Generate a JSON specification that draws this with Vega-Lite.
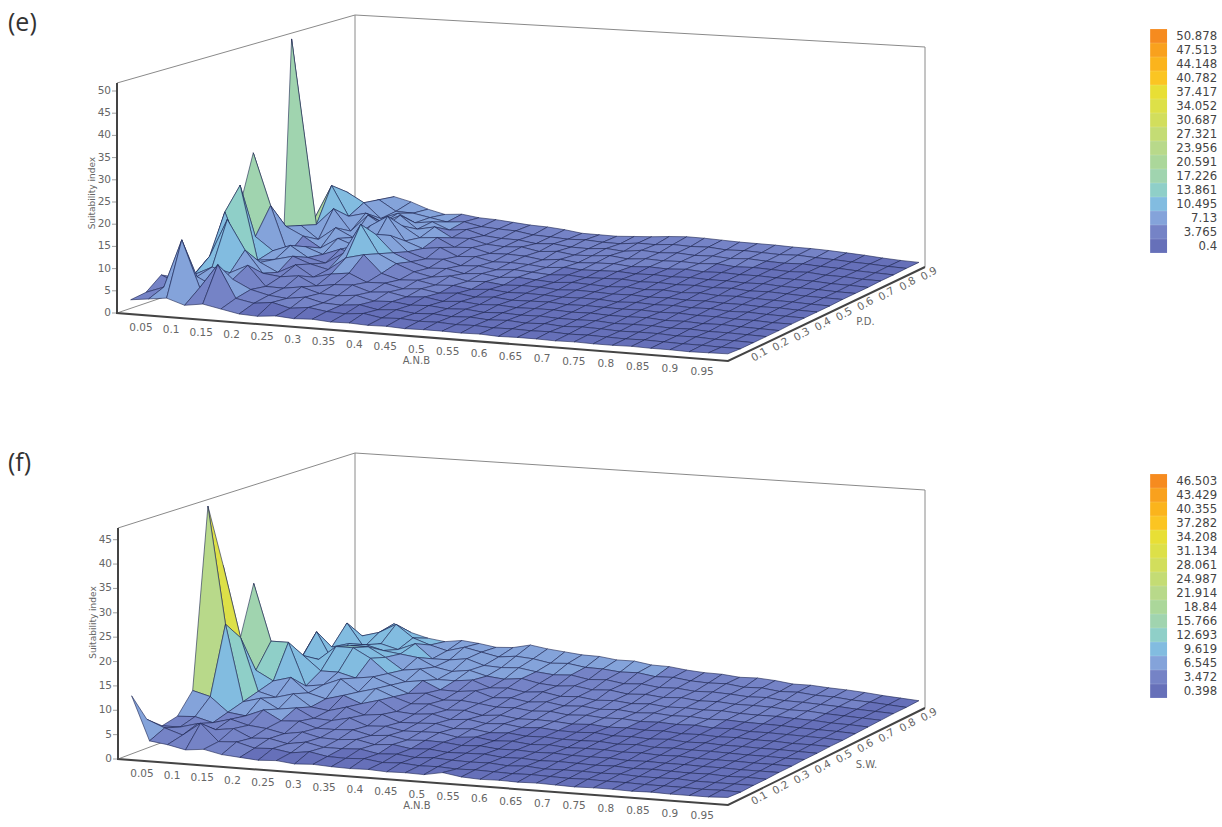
{"$schema":"https://vega.github.io/schema/vega-lite/v6.json","padding":0,"autosize":{"type":"pad"},"spacing":0,"background":"white","config":{"view":{"stroke":null},"concat":{"spacing":0}},"resolve":{"scale":{"fill":"independent"},"legend":{"fill":"independent"}},
"vconcat":[{"width":1222,"height":413,
"title":{"text":"(e)","anchor":"start","frame":"group","orient":"top","offset":-36,"dx":8,"fontSize":25,"font":"Open Sans","fontWeight":"normal","color":"#333333"},
"data":{"values":[
{"k":"e","id":"a","n":0,"a":1,"p":-3,"z":0},{"k":"e","id":"a","n":1,"a":1,"p":90,"z":0},{"k":"e","id":"a","n":2,"a":1,"p":90,"z":51.8},{"k":"e","id":"a","n":3,"a":99,"p":90,"z":51.8},{"k":"e","id":"a","n":4,"a":99,"p":90,"z":0},{"k":"e","id":"b","n":0,"a":1,"p":-3,"z":51.8},{"k":"e","id":"b","n":1,"a":1,"p":90,"z":51.8},
{"k":"E","id":"c","n":0,"a":1,"p":-3,"z":51.8},{"k":"E","id":"c","n":1,"a":1,"p":-3,"z":0},{"k":"E","id":"c","n":2,"a":99,"p":-3,"z":0},{"k":"E","id":"c","n":3,"a":99,"p":90,"z":0},
{"k":"x","t":"0.05","a":5,"p":-3,"z":0},{"k":"x","t":"0.1","a":10,"p":-3,"z":0},{"k":"x","t":"0.15","a":15,"p":-3,"z":0},{"k":"x","t":"0.2","a":20,"p":-3,"z":0},{"k":"x","t":"0.25","a":25,"p":-3,"z":0},{"k":"x","t":"0.3","a":30,"p":-3,"z":0},{"k":"x","t":"0.35","a":35,"p":-3,"z":0},{"k":"x","t":"0.4","a":40,"p":-3,"z":0},{"k":"x","t":"0.45","a":45,"p":-3,"z":0},{"k":"x","t":"0.5","a":50,"p":-3,"z":0},{"k":"x","t":"0.55","a":55,"p":-3,"z":0},{"k":"x","t":"0.6","a":60,"p":-3,"z":0},{"k":"x","t":"0.65","a":65,"p":-3,"z":0},{"k":"x","t":"0.7","a":70,"p":-3,"z":0},{"k":"x","t":"0.75","a":75,"p":-3,"z":0},{"k":"x","t":"0.8","a":80,"p":-3,"z":0},{"k":"x","t":"0.85","a":85,"p":-3,"z":0},{"k":"x","t":"0.9","a":90,"p":-3,"z":0},{"k":"x","t":"0.95","a":95,"p":-3,"z":0},
{"k":"y","t":"0","a":1,"p":-3,"z":0},{"k":"y","t":"5","a":1,"p":-3,"z":5},{"k":"y","t":"10","a":1,"p":-3,"z":10},{"k":"y","t":"15","a":1,"p":-3,"z":15},{"k":"y","t":"20","a":1,"p":-3,"z":20},{"k":"y","t":"25","a":1,"p":-3,"z":25},{"k":"y","t":"30","a":1,"p":-3,"z":30},{"k":"y","t":"35","a":1,"p":-3,"z":35},{"k":"y","t":"40","a":1,"p":-3,"z":40},{"k":"y","t":"45","a":1,"p":-3,"z":45},{"k":"y","t":"50","a":1,"p":-3,"z":50},
{"k":"q","t":"0.1","a":99,"p":10,"z":0},{"k":"q","t":"0.2","a":99,"p":20,"z":0},{"k":"q","t":"0.3","a":99,"p":30,"z":0},{"k":"q","t":"0.4","a":99,"p":40,"z":0},{"k":"q","t":"0.5","a":99,"p":50,"z":0},{"k":"q","t":"0.6","a":99,"p":60,"z":0},{"k":"q","t":"0.7","a":99,"p":70,"z":0},{"k":"q","t":"0.8","a":99,"p":80,"z":0},{"k":"q","t":"0.9","a":99,"p":90,"z":0},
{"k":"t1","t":"A.N.B","a":50,"p":-3,"z":0},{"k":"t2","t":"P.D.","a":99,"p":60,"z":0},{"k":"t3","t":"Suitability index","a":1,"p":-3,"z":27},
{"a":2,"p":90,"z":5},{"a":5,"p":90,"z":7},{"a":8,"p":90,"z":9},{"a":11,"p":90,"z":8},{"a":14,"p":90,"z":6.5},{"a":17,"p":90,"z":5.5},{"a":20,"p":90,"z":5.8},{"a":23,"p":90,"z":5.2},{"a":26,"p":90,"z":5},{"a":29,"p":90,"z":4.6},{"a":32,"p":90,"z":4.2},{"a":35,"p":90,"z":4},{"a":38,"p":90,"z":3.6},{"a":41,"p":90,"z":3},{"a":44,"p":90,"z":2.9},{"a":47,"p":90,"z":2.8},{"a":50,"p":90,"z":3},{"a":53,"p":90,"z":3.2},{"a":56,"p":90,"z":3.5},{"a":59,"p":90,"z":3.7},{"a":62,"p":90,"z":3.6},{"a":65,"p":90,"z":3.4},{"a":68,"p":90,"z":3.2},{"a":71,"p":90,"z":3.1},{"a":74,"p":90,"z":3},{"a":77,"p":90,"z":2.8},{"a":80,"p":90,"z":2.7},{"a":83,"p":90,"z":2.5},{"a":86,"p":90,"z":2.2},{"a":89,"p":90,"z":1.9},{"a":92,"p":90,"z":1.5},{"a":95,"p":90,"z":1.2},{"a":98,"p":90,"z":1},
{"a":2,"p":84,"z":5},{"a":5,"p":84,"z":8},{"a":8,"p":84,"z":9.5},{"a":11,"p":84,"z":7},{"a":14,"p":84,"z":6.8},{"a":17,"p":84,"z":6},{"a":20,"p":84,"z":5.2},{"a":23,"p":84,"z":5.5},{"a":26,"p":84,"z":4.6},{"a":29,"p":84,"z":4.3},{"a":32,"p":84,"z":4.1},{"a":35,"p":84,"z":3.4},{"a":38,"p":84,"z":3.2},{"a":41,"p":84,"z":2.9},{"a":44,"p":84,"z":3},{"a":47,"p":84,"z":2.7},{"a":50,"p":84,"z":2.6},{"a":53,"p":84,"z":3},{"a":56,"p":84,"z":2.9},{"a":59,"p":84,"z":3.2},{"a":62,"p":84,"z":3},{"a":65,"p":84,"z":3.1},{"a":68,"p":84,"z":2.7},{"a":71,"p":84,"z":2.8},{"a":74,"p":84,"z":2.6},{"a":77,"p":84,"z":2.4},{"a":80,"p":84,"z":2.5},{"a":83,"p":84,"z":2.2},{"a":86,"p":84,"z":2},{"a":89,"p":84,"z":1.7},{"a":92,"p":84,"z":1.5},{"a":95,"p":84,"z":1.2},{"a":98,"p":84,"z":1},
{"a":2,"p":78,"z":4},{"a":5,"p":78,"z":12.3},{"a":8,"p":78,"z":10},{"a":11,"p":78,"z":6.5},{"a":14,"p":78,"z":8},{"a":17,"p":78,"z":6},{"a":20,"p":78,"z":6.5},{"a":23,"p":78,"z":4.8},{"a":26,"p":78,"z":5.2},{"a":29,"p":78,"z":4},{"a":32,"p":78,"z":3.6},{"a":35,"p":78,"z":3.5},{"a":38,"p":78,"z":2.9},{"a":41,"p":78,"z":3.1},{"a":44,"p":78,"z":2.6},{"a":47,"p":78,"z":2.5},{"a":50,"p":78,"z":2.8},{"a":53,"p":78,"z":2.4},{"a":56,"p":78,"z":2.9},{"a":59,"p":78,"z":2.6},{"a":62,"p":78,"z":2.8},{"a":65,"p":78,"z":2.5},{"a":68,"p":78,"z":2.6},{"a":71,"p":78,"z":2.3},{"a":74,"p":78,"z":2.5},{"a":77,"p":78,"z":2.2},{"a":80,"p":78,"z":2},{"a":83,"p":78,"z":2.1},{"a":86,"p":78,"z":1.8},{"a":89,"p":78,"z":1.6},{"a":92,"p":78,"z":1.3},{"a":95,"p":78,"z":1.1},{"a":98,"p":78,"z":0.9},
{"a":2,"p":72,"z":7},{"a":5,"p":72,"z":15},{"a":8,"p":72,"z":8},{"a":11,"p":72,"z":9},{"a":14,"p":72,"z":7},{"a":17,"p":72,"z":9},{"a":20,"p":72,"z":6},{"a":23,"p":72,"z":6.8},{"a":26,"p":72,"z":4.5},{"a":29,"p":72,"z":4.6},{"a":32,"p":72,"z":3.5},{"a":35,"p":72,"z":3.2},{"a":38,"p":72,"z":3.4},{"a":41,"p":72,"z":2.6},{"a":44,"p":72,"z":2.9},{"a":47,"p":72,"z":2.3},{"a":50,"p":72,"z":2.4},{"a":53,"p":72,"z":2.7},{"a":56,"p":72,"z":2.2},{"a":59,"p":72,"z":2.5},{"a":62,"p":72,"z":2.3},{"a":65,"p":72,"z":2.4},{"a":68,"p":72,"z":2.2},{"a":71,"p":72,"z":2.4},{"a":74,"p":72,"z":2},{"a":77,"p":72,"z":2.1},{"a":80,"p":72,"z":1.9},{"a":83,"p":72,"z":1.7},{"a":86,"p":72,"z":1.8},{"a":89,"p":72,"z":1.4},{"a":92,"p":72,"z":1.3},{"a":95,"p":72,"z":1},{"a":98,"p":72,"z":0.9},
{"a":2,"p":63,"z":50.9},{"a":5,"p":66,"z":7},{"a":8,"p":66,"z":11},{"a":11,"p":66,"z":6},{"a":14,"p":66,"z":10},{"a":17,"p":66,"z":7.5},{"a":20,"p":66,"z":8},{"a":23,"p":66,"z":5.5},{"a":26,"p":66,"z":5.8},{"a":29,"p":66,"z":3.8},{"a":32,"p":66,"z":4},{"a":35,"p":66,"z":2.9},{"a":38,"p":66,"z":3},{"a":41,"p":66,"z":2.8},{"a":44,"p":66,"z":2.2},{"a":47,"p":66,"z":2.6},{"a":50,"p":66,"z":2.1},{"a":53,"p":66,"z":2.3},{"a":56,"p":66,"z":2.4},{"a":59,"p":66,"z":2},{"a":62,"p":66,"z":2.2},{"a":65,"p":66,"z":2},{"a":68,"p":66,"z":2.2},{"a":71,"p":66,"z":1.9},{"a":74,"p":66,"z":2},{"a":77,"p":66,"z":1.8},{"a":80,"p":66,"z":1.8},{"a":83,"p":66,"z":1.6},{"a":86,"p":66,"z":1.5},{"a":89,"p":66,"z":1.4},{"a":92,"p":66,"z":1.1},{"a":95,"p":66,"z":1},{"a":98,"p":66,"z":0.8},
{"a":2,"p":60,"z":7},{"a":5,"p":60,"z":8},{"a":8,"p":60,"z":5},{"a":11,"p":60,"z":8},{"a":14,"p":60,"z":6},{"a":17,"p":60,"z":9},{"a":20,"p":60,"z":11.5},{"a":23,"p":60,"z":6},{"a":26,"p":60,"z":4.5},{"a":29,"p":60,"z":5},{"a":32,"p":60,"z":3.2},{"a":35,"p":60,"z":3.4},{"a":38,"p":60,"z":2.5},{"a":41,"p":60,"z":2.6},{"a":44,"p":60,"z":2.4},{"a":47,"p":60,"z":2},{"a":50,"p":60,"z":2.3},{"a":53,"p":60,"z":2},{"a":56,"p":60,"z":2.1},{"a":59,"p":60,"z":2.2},{"a":62,"p":60,"z":1.9},{"a":65,"p":60,"z":2},{"a":68,"p":60,"z":1.8},{"a":71,"p":60,"z":1.9},{"a":74,"p":60,"z":1.7},{"a":77,"p":60,"z":1.7},{"a":80,"p":60,"z":1.5},{"a":83,"p":60,"z":1.6},{"a":86,"p":60,"z":1.3},{"a":89,"p":60,"z":1.2},{"a":92,"p":60,"z":1.1},{"a":95,"p":60,"z":0.9},{"a":98,"p":60,"z":0.8},
{"a":2,"p":54,"z":14},{"a":5,"p":54,"z":9},{"a":8,"p":54,"z":7},{"a":11,"p":54,"z":4.5},{"a":14,"p":54,"z":7},{"a":17,"p":54,"z":5.5},{"a":20,"p":54,"z":6.5},{"a":23,"p":54,"z":8.5},{"a":26,"p":54,"z":5},{"a":29,"p":54,"z":3.6},{"a":32,"p":54,"z":3.8},{"a":35,"p":54,"z":2.6},{"a":38,"p":54,"z":2.8},{"a":41,"p":54,"z":2.2},{"a":44,"p":54,"z":2.5},{"a":47,"p":54,"z":2.2},{"a":50,"p":54,"z":1.9},{"a":53,"p":54,"z":2.1},{"a":56,"p":54,"z":1.8},{"a":59,"p":54,"z":1.9},{"a":62,"p":54,"z":2},{"a":65,"p":54,"z":1.7},{"a":68,"p":54,"z":1.8},{"a":71,"p":54,"z":1.6},{"a":74,"p":54,"z":1.7},{"a":77,"p":54,"z":1.5},{"a":80,"p":54,"z":1.6},{"a":83,"p":54,"z":1.3},{"a":86,"p":54,"z":1.4},{"a":89,"p":54,"z":1.2},{"a":92,"p":54,"z":1},{"a":95,"p":54,"z":0.9},{"a":98,"p":54,"z":0.8},
{"a":2,"p":48,"z":27},{"a":5,"p":48,"z":15},{"a":8,"p":48,"z":4},{"a":11,"p":48,"z":6},{"a":14,"p":48,"z":4.5},{"a":17,"p":48,"z":6},{"a":20,"p":48,"z":5},{"a":23,"p":48,"z":10},{"a":26,"p":48,"z":6},{"a":29,"p":48,"z":4.2},{"a":32,"p":48,"z":3},{"a":35,"p":48,"z":3.2},{"a":38,"p":48,"z":2.3},{"a":41,"p":48,"z":2.6},{"a":44,"p":48,"z":2},{"a":47,"p":48,"z":2.3},{"a":50,"p":48,"z":2},{"a":53,"p":48,"z":1.7},{"a":56,"p":48,"z":2},{"a":59,"p":48,"z":1.8},{"a":62,"p":48,"z":1.6},{"a":65,"p":48,"z":1.8},{"a":68,"p":48,"z":1.5},{"a":71,"p":48,"z":1.7},{"a":74,"p":48,"z":1.4},{"a":77,"p":48,"z":1.6},{"a":80,"p":48,"z":1.3},{"a":83,"p":48,"z":1.4},{"a":86,"p":48,"z":1.2},{"a":89,"p":48,"z":1.1},{"a":92,"p":48,"z":1},{"a":95,"p":48,"z":0.8},{"a":98,"p":48,"z":0.7},
{"a":2,"p":42,"z":14},{"a":5,"p":42,"z":9},{"a":8,"p":42,"z":6},{"a":11,"p":42,"z":7.5},{"a":14,"p":42,"z":5},{"a":17,"p":42,"z":4},{"a":20,"p":42,"z":6.5},{"a":23,"p":42,"z":13.5},{"a":26,"p":42,"z":7},{"a":29,"p":42,"z":5},{"a":32,"p":42,"z":3.4},{"a":35,"p":42,"z":2.5},{"a":38,"p":42,"z":3},{"a":41,"p":42,"z":2.1},{"a":44,"p":42,"z":2.3},{"a":47,"p":42,"z":1.8},{"a":50,"p":42,"z":2},{"a":53,"p":42,"z":1.9},{"a":56,"p":42,"z":1.6},{"a":59,"p":42,"z":1.8},{"a":62,"p":42,"z":1.7},{"a":65,"p":42,"z":1.5},{"a":68,"p":42,"z":1.6},{"a":71,"p":42,"z":1.4},{"a":74,"p":42,"z":1.5},{"a":77,"p":42,"z":1.3},{"a":80,"p":42,"z":1.4},{"a":83,"p":42,"z":1.2},{"a":86,"p":42,"z":1.2},{"a":89,"p":42,"z":1},{"a":92,"p":42,"z":1},{"a":95,"p":42,"z":0.8},{"a":98,"p":42,"z":0.7},
{"a":2,"p":36,"z":5},{"a":5,"p":36,"z":22},{"a":8,"p":36,"z":5},{"a":11,"p":36,"z":5.5},{"a":14,"p":36,"z":6.5},{"a":17,"p":36,"z":5},{"a":20,"p":36,"z":4},{"a":23,"p":36,"z":7},{"a":26,"p":36,"z":8},{"a":29,"p":36,"z":4},{"a":32,"p":36,"z":2.8},{"a":35,"p":36,"z":3},{"a":38,"p":36,"z":2.2},{"a":41,"p":36,"z":2.4},{"a":44,"p":36,"z":1.8},{"a":47,"p":36,"z":2.1},{"a":50,"p":36,"z":1.7},{"a":53,"p":36,"z":1.8},{"a":56,"p":36,"z":1.7},{"a":59,"p":36,"z":1.5},{"a":62,"p":36,"z":1.6},{"a":65,"p":36,"z":1.6},{"a":68,"p":36,"z":1.3},{"a":71,"p":36,"z":1.5},{"a":74,"p":36,"z":1.3},{"a":77,"p":36,"z":1.4},{"a":80,"p":36,"z":1.2},{"a":83,"p":36,"z":1.3},{"a":86,"p":36,"z":1},{"a":89,"p":36,"z":1.1},{"a":92,"p":36,"z":0.9},{"a":95,"p":36,"z":0.8},{"a":98,"p":36,"z":0.7},
{"a":2,"p":30,"z":4},{"a":5,"p":30,"z":17},{"a":8,"p":30,"z":7},{"a":11,"p":30,"z":6},{"a":14,"p":30,"z":4},{"a":17,"p":30,"z":6},{"a":20,"p":30,"z":3.5},{"a":23,"p":30,"z":4.5},{"a":26,"p":30,"z":5},{"a":29,"p":30,"z":3.2},{"a":32,"p":30,"z":3.3},{"a":35,"p":30,"z":2.3},{"a":38,"p":30,"z":2.6},{"a":41,"p":30,"z":1.9},{"a":44,"p":30,"z":2.2},{"a":47,"p":30,"z":1.6},{"a":50,"p":30,"z":1.9},{"a":53,"p":30,"z":1.5},{"a":56,"p":30,"z":1.6},{"a":59,"p":30,"z":1.7},{"a":62,"p":30,"z":1.4},{"a":65,"p":30,"z":1.5},{"a":68,"p":30,"z":1.4},{"a":71,"p":30,"z":1.3},{"a":74,"p":30,"z":1.4},{"a":77,"p":30,"z":1.2},{"a":80,"p":30,"z":1.3},{"a":83,"p":30,"z":1.1},{"a":86,"p":30,"z":1.1},{"a":89,"p":30,"z":0.9},{"a":92,"p":30,"z":0.9},{"a":95,"p":30,"z":0.7},{"a":98,"p":30,"z":0.7},
{"a":2,"p":24,"z":3},{"a":5,"p":24,"z":8},{"a":8,"p":24,"z":16.7},{"a":11,"p":24,"z":10},{"a":14,"p":24,"z":5},{"a":17,"p":24,"z":4.5},{"a":20,"p":24,"z":5},{"a":23,"p":24,"z":3},{"a":26,"p":24,"z":3.6},{"a":29,"p":24,"z":3.8},{"a":32,"p":24,"z":2.5},{"a":35,"p":24,"z":2.8},{"a":38,"p":24,"z":2},{"a":41,"p":24,"z":2.3},{"a":44,"p":24,"z":1.6},{"a":47,"p":24,"z":1.9},{"a":50,"p":24,"z":1.5},{"a":53,"p":24,"z":1.7},{"a":56,"p":24,"z":1.4},{"a":59,"p":24,"z":1.5},{"a":62,"p":24,"z":1.5},{"a":65,"p":24,"z":1.3},{"a":68,"p":24,"z":1.4},{"a":71,"p":24,"z":1.2},{"a":74,"p":24,"z":1.2},{"a":77,"p":24,"z":1.3},{"a":80,"p":24,"z":1},{"a":83,"p":24,"z":1.1},{"a":86,"p":24,"z":0.9},{"a":89,"p":24,"z":1},{"a":92,"p":24,"z":0.8},{"a":95,"p":24,"z":0.7},{"a":98,"p":24,"z":0.6},
{"a":2,"p":18,"z":4},{"a":5,"p":18,"z":5},{"a":8,"p":18,"z":7},{"a":11,"p":18,"z":6},{"a":14,"p":18,"z":8},{"a":17,"p":18,"z":3.5},{"a":20,"p":18,"z":3.4},{"a":23,"p":18,"z":4},{"a":26,"p":18,"z":2.8},{"a":29,"p":18,"z":2.6},{"a":32,"p":18,"z":3},{"a":35,"p":18,"z":2},{"a":38,"p":18,"z":2.2},{"a":41,"p":18,"z":1.7},{"a":44,"p":18,"z":1.9},{"a":47,"p":18,"z":1.5},{"a":50,"p":18,"z":1.7},{"a":53,"p":18,"z":1.3},{"a":56,"p":18,"z":1.5},{"a":59,"p":18,"z":1.3},{"a":62,"p":18,"z":1.4},{"a":65,"p":18,"z":1.2},{"a":68,"p":18,"z":1.2},{"a":71,"p":18,"z":1.3},{"a":74,"p":18,"z":1},{"a":77,"p":18,"z":1.1},{"a":80,"p":18,"z":1.1},{"a":83,"p":18,"z":0.9},{"a":86,"p":18,"z":1},{"a":89,"p":18,"z":0.8},{"a":92,"p":18,"z":0.8},{"a":95,"p":18,"z":0.7},{"a":98,"p":18,"z":0.6},
{"a":2,"p":12,"z":5.8},{"a":5,"p":12,"z":4},{"a":8,"p":12,"z":6},{"a":11,"p":12,"z":4},{"a":14,"p":12,"z":6},{"a":17,"p":12,"z":4},{"a":20,"p":12,"z":3},{"a":23,"p":12,"z":2.6},{"a":26,"p":12,"z":3.2},{"a":29,"p":12,"z":2.2},{"a":32,"p":12,"z":2},{"a":35,"p":12,"z":2.4},{"a":38,"p":12,"z":1.6},{"a":41,"p":12,"z":1.9},{"a":44,"p":12,"z":1.4},{"a":47,"p":12,"z":1.6},{"a":50,"p":12,"z":1.3},{"a":53,"p":12,"z":1.5},{"a":56,"p":12,"z":1.2},{"a":59,"p":12,"z":1.4},{"a":62,"p":12,"z":1.1},{"a":65,"p":12,"z":1.3},{"a":68,"p":12,"z":1},{"a":71,"p":12,"z":1.2},{"a":74,"p":12,"z":1.1},{"a":77,"p":12,"z":0.9},{"a":80,"p":12,"z":1},{"a":83,"p":12,"z":1},{"a":86,"p":12,"z":0.8},{"a":89,"p":12,"z":0.9},{"a":92,"p":12,"z":0.7},{"a":95,"p":12,"z":0.7},{"a":98,"p":12,"z":0.6},
{"a":2,"p":6,"z":3},{"a":5,"p":6,"z":4.5},{"a":8,"p":6,"z":15.5},{"a":11,"p":6,"z":5},{"a":14,"p":6,"z":10.5},{"a":17,"p":6,"z":3.2},{"a":20,"p":6,"z":2.4},{"a":23,"p":6,"z":2.9},{"a":26,"p":6,"z":1.9},{"a":29,"p":6,"z":2.4},{"a":32,"p":6,"z":1.8},{"a":35,"p":6,"z":1.6},{"a":38,"p":6,"z":2},{"a":41,"p":6,"z":1.3},{"a":44,"p":6,"z":1.5},{"a":47,"p":6,"z":1.2},{"a":50,"p":6,"z":1.3},{"a":53,"p":6,"z":1.1},{"a":56,"p":6,"z":1.2},{"a":59,"p":6,"z":1},{"a":62,"p":6,"z":1.1},{"a":65,"p":6,"z":1},{"a":68,"p":6,"z":1.1},{"a":71,"p":6,"z":0.9},{"a":74,"p":6,"z":1},{"a":77,"p":6,"z":0.9},{"a":80,"p":6,"z":0.8},{"a":83,"p":6,"z":0.9},{"a":86,"p":6,"z":0.8},{"a":89,"p":6,"z":0.7},{"a":92,"p":6,"z":0.7},{"a":95,"p":6,"z":0.6},{"a":98,"p":6,"z":0.6},
{"a":2,"p":0,"z":2.5},{"a":5,"p":0,"z":3},{"a":8,"p":0,"z":3.5},{"a":11,"p":0,"z":2.2},{"a":14,"p":0,"z":2.8},{"a":17,"p":0,"z":2},{"a":20,"p":0,"z":1.2},{"a":23,"p":0,"z":1},{"a":26,"p":0,"z":1.4},{"a":29,"p":0,"z":1.1},{"a":32,"p":0,"z":1.3},{"a":35,"p":0,"z":1},{"a":38,"p":0,"z":1.1},{"a":41,"p":0,"z":0.9},{"a":44,"p":0,"z":1},{"a":47,"p":0,"z":0.8},{"a":50,"p":0,"z":0.9},{"a":53,"p":0,"z":0.9},{"a":56,"p":0,"z":0.8},{"a":59,"p":0,"z":0.9},{"a":62,"p":0,"z":0.7},{"a":65,"p":0,"z":0.8},{"a":68,"p":0,"z":0.8},{"a":71,"p":0,"z":0.7},{"a":74,"p":0,"z":0.8},{"a":77,"p":0,"z":0.7},{"a":80,"p":0,"z":0.7},{"a":83,"p":0,"z":0.8},{"a":86,"p":0,"z":0.7},{"a":89,"p":0,"z":0.7},{"a":92,"p":0,"z":0.6},{"a":95,"p":0,"z":0.7},{"a":98,"p":0,"z":0.8}
]},
"transform":[
{"calculate":"(datum.a-1)/98","as":"u0"},{"calculate":"datum.u0-0.04*datum.u0*(1-datum.u0)","as":"u"},{"calculate":"(datum.p+3)/93","as":"v"},
{"calculate":"(117+611*datum.u)*(1-datum.v)+(355+570*datum.u)*datum.v","as":"sx"},
{"calculate":"(313+48*datum.u)*(1-datum.v)+(232+35*datum.u)*datum.v-((230+5*datum.u)*(1-datum.v)+(217+3*datum.u)*datum.v)*datum.z/51.8","as":"sy"}],
"encoding":{"x":{"field":"sx","type":"quantitative","scale":{"domain":[0,1222],"range":[0,1222],"nice":false,"zero":false},"axis":null},"y":{"field":"sy","type":"quantitative","scale":{"domain":[0,413],"range":[0,413],"nice":false,"zero":false},"axis":null}},
"layer":[
{"transform":[{"filter":"datum.k=='e'"}],"mark":{"type":"line","stroke":"#8a8a8a","strokeWidth":1},"encoding":{"detail":{"field":"id"},"order":{"field":"n"}}},
{"transform":[{"filter":"!datum.k"},{"calculate":"[0,1,2,3,4]","as":"c"},{"flatten":["c"]},
{"calculate":"round((datum.a-2)/3)-((datum.c==1||datum.c==2)?1:0)","as":"qi"},{"calculate":"round(datum.p/6)-((datum.c==2||datum.c==3)?1:0)","as":"qj"},{"calculate":"datum.qi*100+datum.qj","as":"q"},{"calculate":"datum.c==4?null:datum.z","as":"zv"},
{"joinaggregate":[{"op":"count","as":"nv"},{"op":"mean","field":"zv","as":"mz"}],"groupby":["q"]},{"filter":"datum.nv==5"},
{"calculate":"['0.4','3.765','7.13','10.495','13.861','17.226','20.591','23.956','27.321','30.687','34.052','37.417','40.782','44.148','47.513','50.878'][clamp(round((datum.mz-0.4)/3.365),0,15)]","as":"b"}],
"mark":{"type":"line","stroke":"#1b2350","strokeWidth":0.6,"strokeJoin":"round"},
"encoding":{"fill":{"field":"b","type":"nominal","scale":{"domain":["50.878","47.513","44.148","40.782","37.417","34.052","30.687","27.321","23.956","20.591","17.226","13.861","10.495","7.13","3.765","0.4"],"range":["#F68B1F","#F9A11D","#FBB41C","#FBC522","#E8DF35","#DDE048","#D2DE5C","#C4DC74","#B8D98A","#ABD79A","#A0D4AF","#8FCFC8","#82BCE0","#84A3DA","#7583C6","#6670B9"]},"legend":{"title":null,"orient":"none","legendX":1151.6,"legendY":29,"symbolType":"M-1.22,-1V1H1.22V-1Z","symbolSize":192,"symbolStrokeWidth":0,"rowPadding":0,"labelFontSize":11.7,"labelFont":"DejaVu Sans","labelColor":"#444444","labelAlign":"right","labelOffset":51.5}},"detail":{"field":"q"},"order":{"field":"c"}}},
{"transform":[{"filter":"datum.k=='E'"}],"mark":{"type":"line","stroke":"#444444","strokeWidth":2},"encoding":{"detail":{"field":"id"},"order":{"field":"n"}}},
{"transform":[{"filter":"datum.k=='x'"}],"mark":{"type":"text","yOffset":13,"font":"DejaVu Sans","fontSize":10.5,"fill":"#666666"},"encoding":{"text":{"field":"t"}}},
{"transform":[{"filter":"datum.k=='y'"}],"mark":{"type":"text","xOffset":-6,"align":"right","font":"DejaVu Sans","fontSize":10.5,"fill":"#666666"},"encoding":{"text":{"field":"t"}}},
{"transform":[{"filter":"datum.k=='y'"}],"mark":{"type":"tick","orient":"horizontal","size":4,"thickness":1,"xOffset":-3,"color":"#777777"}},
{"transform":[{"filter":"datum.k=='q'"}],"mark":{"type":"text","xOffset":4,"yOffset":7,"angle":330,"font":"DejaVu Sans","fontSize":10.5,"fill":"#666666"},"encoding":{"text":{"field":"t"}}},
{"transform":[{"filter":"datum.k=='t1'"}],"mark":{"type":"text","yOffset":24,"font":"DejaVu Sans","fontSize":10,"fill":"#666666"},"encoding":{"text":{"field":"t"}}},
{"transform":[{"filter":"datum.k=='t2'"}],"mark":{"type":"text","xOffset":4,"yOffset":25,"font":"DejaVu Sans","fontSize":10,"fill":"#666666"},"encoding":{"text":{"field":"t"}}},
{"transform":[{"filter":"datum.k=='t3'"}],"mark":{"type":"text","xOffset":-25,"angle":270,"font":"DejaVu Sans","fontSize":9,"fill":"#666666"},"encoding":{"text":{"field":"t"}}}
]},
{"width":1222,"height":414,
"title":{"text":"(f)","anchor":"start","frame":"group","orient":"top","offset":-63,"dx":8,"fontSize":25,"font":"Open Sans","fontWeight":"normal","color":"#333333"},
"data":{"values":[
{"k":"e","id":"a","n":0,"a":1,"p":-3,"z":0},{"k":"e","id":"a","n":1,"a":1,"p":90,"z":0},{"k":"e","id":"a","n":2,"a":1,"p":90,"z":47.4},{"k":"e","id":"a","n":3,"a":99,"p":90,"z":47.4},{"k":"e","id":"a","n":4,"a":99,"p":90,"z":0},{"k":"e","id":"b","n":0,"a":1,"p":-3,"z":47.4},{"k":"e","id":"b","n":1,"a":1,"p":90,"z":47.4},
{"k":"E","id":"c","n":0,"a":1,"p":-3,"z":47.4},{"k":"E","id":"c","n":1,"a":1,"p":-3,"z":0},{"k":"E","id":"c","n":2,"a":99,"p":-3,"z":0},{"k":"E","id":"c","n":3,"a":99,"p":90,"z":0},
{"k":"x","t":"0.05","a":5,"p":-3,"z":0},{"k":"x","t":"0.1","a":10,"p":-3,"z":0},{"k":"x","t":"0.15","a":15,"p":-3,"z":0},{"k":"x","t":"0.2","a":20,"p":-3,"z":0},{"k":"x","t":"0.25","a":25,"p":-3,"z":0},{"k":"x","t":"0.3","a":30,"p":-3,"z":0},{"k":"x","t":"0.35","a":35,"p":-3,"z":0},{"k":"x","t":"0.4","a":40,"p":-3,"z":0},{"k":"x","t":"0.45","a":45,"p":-3,"z":0},{"k":"x","t":"0.5","a":50,"p":-3,"z":0},{"k":"x","t":"0.55","a":55,"p":-3,"z":0},{"k":"x","t":"0.6","a":60,"p":-3,"z":0},{"k":"x","t":"0.65","a":65,"p":-3,"z":0},{"k":"x","t":"0.7","a":70,"p":-3,"z":0},{"k":"x","t":"0.75","a":75,"p":-3,"z":0},{"k":"x","t":"0.8","a":80,"p":-3,"z":0},{"k":"x","t":"0.85","a":85,"p":-3,"z":0},{"k":"x","t":"0.9","a":90,"p":-3,"z":0},{"k":"x","t":"0.95","a":95,"p":-3,"z":0},
{"k":"y","t":"0","a":1,"p":-3,"z":0},{"k":"y","t":"5","a":1,"p":-3,"z":5},{"k":"y","t":"10","a":1,"p":-3,"z":10},{"k":"y","t":"15","a":1,"p":-3,"z":15},{"k":"y","t":"20","a":1,"p":-3,"z":20},{"k":"y","t":"25","a":1,"p":-3,"z":25},{"k":"y","t":"30","a":1,"p":-3,"z":30},{"k":"y","t":"35","a":1,"p":-3,"z":35},{"k":"y","t":"40","a":1,"p":-3,"z":40},{"k":"y","t":"45","a":1,"p":-3,"z":45},
{"k":"q","t":"0.1","a":99,"p":10,"z":0},{"k":"q","t":"0.2","a":99,"p":20,"z":0},{"k":"q","t":"0.3","a":99,"p":30,"z":0},{"k":"q","t":"0.4","a":99,"p":40,"z":0},{"k":"q","t":"0.5","a":99,"p":50,"z":0},{"k":"q","t":"0.6","a":99,"p":60,"z":0},{"k":"q","t":"0.7","a":99,"p":70,"z":0},{"k":"q","t":"0.8","a":99,"p":80,"z":0},{"k":"q","t":"0.9","a":99,"p":90,"z":0},
{"k":"t1","t":"A.N.B","a":50,"p":-3,"z":0},{"k":"t2","t":"S.W.","a":99,"p":60,"z":0},{"k":"t3","t":"Suitability index","a":1,"p":-3,"z":28},
{"a":2,"p":90,"z":6},{"a":5,"p":90,"z":8},{"a":8,"p":90,"z":10.7},{"a":11,"p":90,"z":9},{"a":14,"p":90,"z":8},{"a":17,"p":90,"z":7.5},{"a":20,"p":90,"z":8},{"a":23,"p":90,"z":7.6},{"a":26,"p":90,"z":7},{"a":29,"p":90,"z":7.2},{"a":32,"p":90,"z":8},{"a":35,"p":90,"z":7.4},{"a":38,"p":90,"z":7},{"a":41,"p":90,"z":6.6},{"a":44,"p":90,"z":6.5},{"a":47,"p":90,"z":6},{"a":50,"p":90,"z":6},{"a":53,"p":90,"z":5.4},{"a":56,"p":90,"z":5.3},{"a":59,"p":90,"z":4.8},{"a":62,"p":90,"z":4.5},{"a":65,"p":90,"z":4.4},{"a":68,"p":90,"z":4},{"a":71,"p":90,"z":4.1},{"a":74,"p":90,"z":3.8},{"a":77,"p":90,"z":3.3},{"a":80,"p":90,"z":3.3},{"a":83,"p":90,"z":3},{"a":86,"p":90,"z":2.8},{"a":89,"p":90,"z":2.5},{"a":92,"p":90,"z":2.1},{"a":95,"p":90,"z":1.8},{"a":98,"p":90,"z":1.5},
{"a":2,"p":84,"z":6},{"a":5,"p":84,"z":9},{"a":8,"p":84,"z":10},{"a":11,"p":84,"z":12},{"a":14,"p":84,"z":9.3},{"a":17,"p":84,"z":8},{"a":20,"p":84,"z":7},{"a":23,"p":84,"z":8},{"a":26,"p":84,"z":7.2},{"a":29,"p":84,"z":6.4},{"a":32,"p":84,"z":6.8},{"a":35,"p":84,"z":6.5},{"a":38,"p":84,"z":5.8},{"a":41,"p":84,"z":6},{"a":44,"p":84,"z":5.4},{"a":47,"p":84,"z":5.3},{"a":50,"p":84,"z":4.9},{"a":53,"p":84,"z":5},{"a":56,"p":84,"z":4.4},{"a":59,"p":84,"z":4.5},{"a":62,"p":84,"z":4},{"a":65,"p":84,"z":3.8},{"a":68,"p":84,"z":3.9},{"a":71,"p":84,"z":3.4},{"a":74,"p":84,"z":3.5},{"a":77,"p":84,"z":3},{"a":80,"p":84,"z":3.1},{"a":83,"p":84,"z":2.7},{"a":86,"p":84,"z":2.6},{"a":89,"p":84,"z":2.2},{"a":92,"p":84,"z":2},{"a":95,"p":84,"z":1.7},{"a":98,"p":84,"z":1.4},
{"a":2,"p":78,"z":5},{"a":5,"p":78,"z":13},{"a":8,"p":78,"z":8},{"a":11,"p":78,"z":9},{"a":14,"p":78,"z":8},{"a":17,"p":78,"z":9.5},{"a":20,"p":78,"z":6.5},{"a":23,"p":78,"z":6.5},{"a":26,"p":78,"z":7},{"a":29,"p":78,"z":5.8},{"a":32,"p":78,"z":5.6},{"a":35,"p":78,"z":5.8},{"a":38,"p":78,"z":5.2},{"a":41,"p":78,"z":4.8},{"a":44,"p":78,"z":5},{"a":47,"p":78,"z":4.3},{"a":50,"p":78,"z":4.5},{"a":53,"p":78,"z":3.9},{"a":56,"p":78,"z":4.1},{"a":59,"p":78,"z":3.6},{"a":62,"p":78,"z":3.7},{"a":65,"p":78,"z":3.3},{"a":68,"p":78,"z":3.4},{"a":71,"p":78,"z":3.2},{"a":74,"p":78,"z":2.9},{"a":77,"p":78,"z":3},{"a":80,"p":78,"z":2.6},{"a":83,"p":78,"z":2.5},{"a":86,"p":78,"z":2.3},{"a":89,"p":78,"z":2.1},{"a":92,"p":78,"z":1.8},{"a":95,"p":78,"z":1.6},{"a":98,"p":78,"z":1.4},
{"a":2,"p":72,"z":8},{"a":5,"p":72,"z":9},{"a":8,"p":72,"z":10},{"a":11,"p":72,"z":10},{"a":14,"p":72,"z":9},{"a":17,"p":72,"z":8.5},{"a":20,"p":72,"z":8},{"a":23,"p":72,"z":6.2},{"a":26,"p":72,"z":5.5},{"a":29,"p":72,"z":6},{"a":32,"p":72,"z":5},{"a":35,"p":72,"z":4.6},{"a":38,"p":72,"z":5},{"a":41,"p":72,"z":4.2},{"a":44,"p":72,"z":3.9},{"a":47,"p":72,"z":4.2},{"a":50,"p":72,"z":3.6},{"a":53,"p":72,"z":3.8},{"a":56,"p":72,"z":3.2},{"a":59,"p":72,"z":3.4},{"a":62,"p":72,"z":3},{"a":65,"p":72,"z":3.2},{"a":68,"p":72,"z":2.8},{"a":71,"p":72,"z":2.9},{"a":74,"p":72,"z":2.6},{"a":77,"p":72,"z":2.6},{"a":80,"p":72,"z":2.5},{"a":83,"p":72,"z":2.2},{"a":86,"p":72,"z":2.2},{"a":89,"p":72,"z":1.9},{"a":92,"p":72,"z":1.7},{"a":95,"p":72,"z":1.5},{"a":98,"p":72,"z":1.3},
{"a":2,"p":66,"z":7},{"a":5,"p":66,"z":13.5},{"a":8,"p":66,"z":7},{"a":11,"p":66,"z":11},{"a":14,"p":66,"z":11},{"a":17,"p":66,"z":9},{"a":20,"p":66,"z":6.5},{"a":23,"p":66,"z":7},{"a":26,"p":66,"z":5},{"a":29,"p":66,"z":5},{"a":32,"p":66,"z":5.4},{"a":35,"p":66,"z":4},{"a":38,"p":66,"z":4.2},{"a":41,"p":66,"z":3.6},{"a":44,"p":66,"z":3.9},{"a":47,"p":66,"z":3.2},{"a":50,"p":66,"z":3.4},{"a":53,"p":66,"z":2.9},{"a":56,"p":66,"z":3.1},{"a":59,"p":66,"z":2.7},{"a":62,"p":66,"z":2.9},{"a":65,"p":66,"z":2.5},{"a":68,"p":66,"z":2.6},{"a":71,"p":66,"z":2.4},{"a":74,"p":66,"z":2.5},{"a":77,"p":66,"z":2.2},{"a":80,"p":66,"z":2.1},{"a":83,"p":66,"z":2.1},{"a":86,"p":66,"z":1.9},{"a":89,"p":66,"z":1.8},{"a":92,"p":66,"z":1.5},{"a":95,"p":66,"z":1.4},{"a":98,"p":66,"z":1.2},
{"a":2,"p":60,"z":6},{"a":5,"p":60,"z":9},{"a":8,"p":60,"z":9},{"a":11,"p":60,"z":12},{"a":14,"p":60,"z":12},{"a":17,"p":60,"z":10},{"a":20,"p":60,"z":7},{"a":23,"p":60,"z":5.5},{"a":26,"p":60,"z":6},{"a":29,"p":60,"z":4.3},{"a":32,"p":60,"z":4.2},{"a":35,"p":60,"z":4.6},{"a":38,"p":60,"z":3.4},{"a":41,"p":60,"z":3.6},{"a":44,"p":60,"z":3},{"a":47,"p":60,"z":3.3},{"a":50,"p":60,"z":2.7},{"a":53,"p":60,"z":2.9},{"a":56,"p":60,"z":2.5},{"a":59,"p":60,"z":2.7},{"a":62,"p":60,"z":2.3},{"a":65,"p":60,"z":2.5},{"a":68,"p":60,"z":2.2},{"a":71,"p":60,"z":2.3},{"a":74,"p":60,"z":2},{"a":77,"p":60,"z":2.1},{"a":80,"p":60,"z":1.9},{"a":83,"p":60,"z":1.8},{"a":86,"p":60,"z":1.7},{"a":89,"p":60,"z":1.5},{"a":92,"p":60,"z":1.4},{"a":95,"p":60,"z":1.3},{"a":98,"p":60,"z":1.1},
{"a":2,"p":54,"z":12},{"a":5,"p":54,"z":7},{"a":8,"p":54,"z":11},{"a":11,"p":54,"z":8},{"a":14,"p":54,"z":8},{"a":17,"p":54,"z":7},{"a":20,"p":54,"z":7.5},{"a":23,"p":54,"z":6},{"a":26,"p":54,"z":4.5},{"a":29,"p":54,"z":4.8},{"a":32,"p":54,"z":3.6},{"a":35,"p":54,"z":3.8},{"a":38,"p":54,"z":3.4},{"a":41,"p":54,"z":2.9},{"a":44,"p":54,"z":3},{"a":47,"p":54,"z":2.6},{"a":50,"p":54,"z":2.8},{"a":53,"p":54,"z":2.3},{"a":56,"p":54,"z":2.5},{"a":59,"p":54,"z":2.2},{"a":62,"p":54,"z":2.3},{"a":65,"p":54,"z":2},{"a":68,"p":54,"z":2.1},{"a":71,"p":54,"z":1.9},{"a":74,"p":54,"z":2},{"a":77,"p":54,"z":1.7},{"a":80,"p":54,"z":1.8},{"a":83,"p":54,"z":1.5},{"a":86,"p":54,"z":1.5},{"a":89,"p":54,"z":1.4},{"a":92,"p":54,"z":1.3},{"a":95,"p":54,"z":1.2},{"a":98,"p":54,"z":1},
{"a":2,"p":48,"z":27},{"a":5,"p":48,"z":15},{"a":8,"p":48,"z":15},{"a":11,"p":48,"z":6},{"a":14,"p":48,"z":6.5},{"a":17,"p":48,"z":8},{"a":20,"p":48,"z":5.5},{"a":23,"p":48,"z":6.5},{"a":26,"p":48,"z":5},{"a":29,"p":48,"z":3.8},{"a":32,"p":48,"z":4},{"a":35,"p":48,"z":3},{"a":38,"p":48,"z":3.2},{"a":41,"p":48,"z":2.4},{"a":44,"p":48,"z":2.7},{"a":47,"p":48,"z":2.2},{"a":50,"p":48,"z":2.3},{"a":53,"p":48,"z":2.2},{"a":56,"p":48,"z":1.9},{"a":59,"p":48,"z":2.1},{"a":62,"p":48,"z":1.8},{"a":65,"p":48,"z":1.9},{"a":68,"p":48,"z":1.7},{"a":71,"p":48,"z":1.8},{"a":74,"p":48,"z":1.5},{"a":77,"p":48,"z":1.6},{"a":80,"p":48,"z":1.4},{"a":83,"p":48,"z":1.5},{"a":86,"p":48,"z":1.3},{"a":89,"p":48,"z":1.3},{"a":92,"p":48,"z":1.1},{"a":95,"p":48,"z":1.1},{"a":98,"p":48,"z":1},
{"a":2,"p":42,"z":15},{"a":5,"p":42,"z":10},{"a":8,"p":42,"z":8},{"a":11,"p":42,"z":9},{"a":14,"p":42,"z":6},{"a":17,"p":42,"z":5},{"a":20,"p":42,"z":6},{"a":23,"p":42,"z":4.5},{"a":26,"p":42,"z":5.5},{"a":29,"p":42,"z":3.4},{"a":32,"p":42,"z":3.1},{"a":35,"p":42,"z":3.4},{"a":38,"p":42,"z":2.5},{"a":41,"p":42,"z":2.8},{"a":44,"p":42,"z":2.2},{"a":47,"p":42,"z":2.4},{"a":50,"p":42,"z":1.9},{"a":53,"p":42,"z":2.1},{"a":56,"p":42,"z":1.8},{"a":59,"p":42,"z":1.7},{"a":62,"p":42,"z":1.9},{"a":65,"p":42,"z":1.5},{"a":68,"p":42,"z":1.6},{"a":71,"p":42,"z":1.4},{"a":74,"p":42,"z":1.6},{"a":77,"p":42,"z":1.3},{"a":80,"p":42,"z":1.4},{"a":83,"p":42,"z":1.2},{"a":86,"p":42,"z":1.2},{"a":89,"p":42,"z":1.1},{"a":92,"p":42,"z":1.1},{"a":95,"p":42,"z":1},{"a":98,"p":42,"z":0.9},
{"a":2,"p":36,"z":33},{"a":5,"p":36,"z":18},{"a":8,"p":36,"z":7},{"a":11,"p":36,"z":6},{"a":14,"p":36,"z":7},{"a":17,"p":36,"z":4.5},{"a":20,"p":36,"z":4},{"a":23,"p":36,"z":5},{"a":26,"p":36,"z":3.6},{"a":29,"p":36,"z":4},{"a":32,"p":36,"z":2.6},{"a":35,"p":36,"z":2.7},{"a":38,"p":36,"z":2.9},{"a":41,"p":36,"z":2.1},{"a":44,"p":36,"z":2.3},{"a":47,"p":36,"z":1.8},{"a":50,"p":36,"z":2},{"a":53,"p":36,"z":1.6},{"a":56,"p":36,"z":1.7},{"a":59,"p":36,"z":1.5},{"a":62,"p":36,"z":1.5},{"a":65,"p":36,"z":1.6},{"a":68,"p":36,"z":1.3},{"a":71,"p":36,"z":1.5},{"a":74,"p":36,"z":1.2},{"a":77,"p":36,"z":1.3},{"a":80,"p":36,"z":1.2},{"a":83,"p":36,"z":1.2},{"a":86,"p":36,"z":1.1},{"a":89,"p":36,"z":1},{"a":92,"p":36,"z":1},{"a":95,"p":36,"z":0.9},{"a":98,"p":36,"z":0.9},
{"a":2,"p":30,"z":46.5},{"a":5,"p":30,"z":22},{"a":8,"p":30,"z":6},{"a":11,"p":30,"z":7},{"a":14,"p":30,"z":5},{"a":17,"p":30,"z":5.5},{"a":20,"p":30,"z":3.6},{"a":23,"p":30,"z":3.4},{"a":26,"p":30,"z":4.2},{"a":29,"p":30,"z":2.8},{"a":32,"p":30,"z":3},{"a":35,"p":30,"z":2.3},{"a":38,"p":30,"z":2.4},{"a":41,"p":30,"z":2.5},{"a":44,"p":30,"z":1.8},{"a":47,"p":30,"z":2.1},{"a":50,"p":30,"z":1.6},{"a":53,"p":30,"z":1.8},{"a":56,"p":30,"z":1.4},{"a":59,"p":30,"z":1.6},{"a":62,"p":30,"z":1.3},{"a":65,"p":30,"z":1.4},{"a":68,"p":30,"z":1.4},{"a":71,"p":30,"z":1.2},{"a":74,"p":30,"z":1.3},{"a":77,"p":30,"z":1.1},{"a":80,"p":30,"z":1.2},{"a":83,"p":30,"z":1},{"a":86,"p":30,"z":1},{"a":89,"p":30,"z":1},{"a":92,"p":30,"z":0.9},{"a":95,"p":30,"z":0.9},{"a":98,"p":30,"z":0.8},
{"a":2,"p":24,"z":9},{"a":5,"p":24,"z":8},{"a":8,"p":24,"z":5},{"a":11,"p":24,"z":4.5},{"a":14,"p":24,"z":6},{"a":17,"p":24,"z":4},{"a":20,"p":24,"z":4.2},{"a":23,"p":24,"z":3},{"a":26,"p":24,"z":3},{"a":29,"p":24,"z":3.2},{"a":32,"p":24,"z":2.3},{"a":35,"p":24,"z":2.6},{"a":38,"p":24,"z":1.9},{"a":41,"p":24,"z":2.1},{"a":44,"p":24,"z":2},{"a":47,"p":24,"z":1.6},{"a":50,"p":24,"z":1.8},{"a":53,"p":24,"z":1.4},{"a":56,"p":24,"z":1.5},{"a":59,"p":24,"z":1.3},{"a":62,"p":24,"z":1.4},{"a":65,"p":24,"z":1.2},{"a":68,"p":24,"z":1.2},{"a":71,"p":24,"z":1.2},{"a":74,"p":24,"z":1},{"a":77,"p":24,"z":1.1},{"a":80,"p":24,"z":1},{"a":83,"p":24,"z":1},{"a":86,"p":24,"z":0.9},{"a":89,"p":24,"z":0.9},{"a":92,"p":24,"z":0.8},{"a":95,"p":24,"z":0.8},{"a":98,"p":24,"z":0.8},
{"a":2,"p":18,"z":4.8},{"a":5,"p":18,"z":5},{"a":8,"p":18,"z":4},{"a":11,"p":18,"z":5},{"a":14,"p":18,"z":4},{"a":17,"p":18,"z":3.6},{"a":20,"p":18,"z":2.8},{"a":23,"p":18,"z":3.4},{"a":26,"p":18,"z":2.5},{"a":29,"p":18,"z":2.4},{"a":32,"p":18,"z":2.7},{"a":35,"p":18,"z":1.9},{"a":38,"p":18,"z":2.2},{"a":41,"p":18,"z":1.6},{"a":44,"p":18,"z":1.8},{"a":47,"p":18,"z":1.4},{"a":50,"p":18,"z":1.5},{"a":53,"p":18,"z":1.6},{"a":56,"p":18,"z":1.2},{"a":59,"p":18,"z":1.3},{"a":62,"p":18,"z":1.1},{"a":65,"p":18,"z":1.2},{"a":68,"p":18,"z":1.1},{"a":71,"p":18,"z":1},{"a":74,"p":18,"z":1.1},{"a":77,"p":18,"z":0.9},{"a":80,"p":18,"z":1},{"a":83,"p":18,"z":0.9},{"a":86,"p":18,"z":0.8},{"a":89,"p":18,"z":0.9},{"a":92,"p":18,"z":0.7},{"a":95,"p":18,"z":0.8},{"a":98,"p":18,"z":0.7},
{"a":2,"p":12,"z":4},{"a":5,"p":12,"z":4},{"a":8,"p":12,"z":5},{"a":11,"p":12,"z":4},{"a":14,"p":12,"z":4.5},{"a":17,"p":12,"z":2.8},{"a":20,"p":12,"z":3},{"a":23,"p":12,"z":2.2},{"a":26,"p":12,"z":2.8},{"a":29,"p":12,"z":2},{"a":32,"p":12,"z":2},{"a":35,"p":12,"z":2.2},{"a":38,"p":12,"z":1.5},{"a":41,"p":12,"z":1.7},{"a":44,"p":12,"z":1.3},{"a":47,"p":12,"z":1.5},{"a":50,"p":12,"z":1.3},{"a":53,"p":12,"z":1.2},{"a":56,"p":12,"z":1.3},{"a":59,"p":12,"z":1},{"a":62,"p":12,"z":1.2},{"a":65,"p":12,"z":0.9},{"a":68,"p":12,"z":1},{"a":71,"p":12,"z":1},{"a":74,"p":12,"z":0.9},{"a":77,"p":12,"z":1},{"a":80,"p":12,"z":0.8},{"a":83,"p":12,"z":0.8},{"a":86,"p":12,"z":0.9},{"a":89,"p":12,"z":0.7},{"a":92,"p":12,"z":0.7},{"a":95,"p":12,"z":0.7},{"a":98,"p":12,"z":0.7},
{"a":2,"p":6,"z":6.5},{"a":5,"p":6,"z":5},{"a":8,"p":6,"z":3.8},{"a":11,"p":6,"z":6.5},{"a":14,"p":6,"z":3},{"a":17,"p":6,"z":3.2},{"a":20,"p":6,"z":2.2},{"a":23,"p":6,"z":2.4},{"a":26,"p":6,"z":1.8},{"a":29,"p":6,"z":2.3},{"a":32,"p":6,"z":1.6},{"a":35,"p":6,"z":1.5},{"a":38,"p":6,"z":1.7},{"a":41,"p":6,"z":1.2},{"a":44,"p":6,"z":1.4},{"a":47,"p":6,"z":1.1},{"a":50,"p":6,"z":1.2},{"a":53,"p":6,"z":1},{"a":56,"p":6,"z":1.1},{"a":59,"p":6,"z":1},{"a":62,"p":6,"z":0.9},{"a":65,"p":6,"z":1},{"a":68,"p":6,"z":0.9},{"a":71,"p":6,"z":0.8},{"a":74,"p":6,"z":0.9},{"a":77,"p":6,"z":0.8},{"a":80,"p":6,"z":0.8},{"a":83,"p":6,"z":0.7},{"a":86,"p":6,"z":0.7},{"a":89,"p":6,"z":0.7},{"a":92,"p":6,"z":0.6},{"a":95,"p":6,"z":0.7},{"a":98,"p":6,"z":0.6},
{"a":2,"p":0,"z":12.5},{"a":5,"p":0,"z":3.5},{"a":8,"p":0,"z":3},{"a":11,"p":0,"z":2.2},{"a":14,"p":0,"z":2.6},{"a":17,"p":0,"z":1.8},{"a":20,"p":0,"z":1.5},{"a":23,"p":0,"z":1.2},{"a":26,"p":0,"z":1.4},{"a":29,"p":0,"z":1},{"a":32,"p":0,"z":1.2},{"a":35,"p":0,"z":1},{"a":38,"p":0,"z":0.9},{"a":41,"p":0,"z":1},{"a":44,"p":0,"z":0.8},{"a":47,"p":0,"z":0.9},{"a":50,"p":0,"z":0.8},{"a":53,"p":0,"z":1.5},{"a":56,"p":0,"z":0.9},{"a":59,"p":0,"z":0.7},{"a":62,"p":0,"z":0.8},{"a":65,"p":0,"z":0.7},{"a":68,"p":0,"z":0.8},{"a":71,"p":0,"z":0.7},{"a":74,"p":0,"z":0.6},{"a":77,"p":0,"z":0.7},{"a":80,"p":0,"z":0.7},{"a":83,"p":0,"z":0.6},{"a":86,"p":0,"z":0.7},{"a":89,"p":0,"z":0.6},{"a":92,"p":0,"z":0.6},{"a":95,"p":0,"z":0.6},{"a":98,"p":0,"z":0.8}
]},
"transform":[
{"calculate":"(datum.a-1)/98","as":"u0"},{"calculate":"datum.u0-0.04*datum.u0*(1-datum.u0)","as":"u"},{"calculate":"(datum.p+3)/93","as":"v"},
{"calculate":"(118+610*datum.u)*(1-datum.v)+(355+570*datum.u)*datum.v","as":"sx"},
{"calculate":"(346+46*datum.u)*(1-datum.v)+(257+38*datum.u)*datum.v-((231+4*datum.u)*(1-datum.v)+(217+datum.u)*datum.v)*datum.z/47.4","as":"sy"}],
"encoding":{"x":{"field":"sx","type":"quantitative","scale":{"domain":[0,1222],"range":[0,1222],"nice":false,"zero":false},"axis":null},"y":{"field":"sy","type":"quantitative","scale":{"domain":[0,414],"range":[0,414],"nice":false,"zero":false},"axis":null}},
"layer":[
{"transform":[{"filter":"datum.k=='e'"}],"mark":{"type":"line","stroke":"#8a8a8a","strokeWidth":1},"encoding":{"detail":{"field":"id"},"order":{"field":"n"}}},
{"transform":[{"filter":"!datum.k"},{"calculate":"[0,1,2,3,4]","as":"c"},{"flatten":["c"]},
{"calculate":"round((datum.a-2)/3)-((datum.c==1||datum.c==2)?1:0)","as":"qi"},{"calculate":"round(datum.p/6)-((datum.c==2||datum.c==3)?1:0)","as":"qj"},{"calculate":"datum.qi*100+datum.qj","as":"q"},{"calculate":"datum.c==4?null:datum.z","as":"zv"},
{"joinaggregate":[{"op":"count","as":"nv"},{"op":"mean","field":"zv","as":"mz"}],"groupby":["q"]},{"filter":"datum.nv==5"},
{"calculate":"['0.398','3.472','6.545','9.619','12.693','15.766','18.84','21.914','24.987','28.061','31.134','34.208','37.282','40.355','43.429','46.503'][clamp(round((datum.mz-0.398)/3.0737),0,15)]","as":"b"}],
"mark":{"type":"line","stroke":"#1b2350","strokeWidth":0.6,"strokeJoin":"round"},
"encoding":{"fill":{"field":"b","type":"nominal","scale":{"domain":["46.503","43.429","40.355","37.282","34.208","31.134","28.061","24.987","21.914","18.84","15.766","12.693","9.619","6.545","3.472","0.398"],"range":["#F68B1F","#F9A11D","#FBB41C","#FBC522","#E8DF35","#DDE048","#D2DE5C","#C4DC74","#B8D98A","#ABD79A","#A0D4AF","#8FCFC8","#82BCE0","#84A3DA","#7583C6","#6670B9"]},"legend":{"title":null,"orient":"none","legendX":1151.6,"legendY":61,"symbolType":"M-1.22,-1V1H1.22V-1Z","symbolSize":192,"symbolStrokeWidth":0,"rowPadding":0,"labelFontSize":11.7,"labelFont":"DejaVu Sans","labelColor":"#444444","labelAlign":"right","labelOffset":51.5}},"detail":{"field":"q"},"order":{"field":"c"}}},
{"transform":[{"filter":"datum.k=='E'"}],"mark":{"type":"line","stroke":"#444444","strokeWidth":2},"encoding":{"detail":{"field":"id"},"order":{"field":"n"}}},
{"transform":[{"filter":"datum.k=='x'"}],"mark":{"type":"text","yOffset":13,"font":"DejaVu Sans","fontSize":10.5,"fill":"#666666"},"encoding":{"text":{"field":"t"}}},
{"transform":[{"filter":"datum.k=='y'"}],"mark":{"type":"text","xOffset":-6,"align":"right","font":"DejaVu Sans","fontSize":10.5,"fill":"#666666"},"encoding":{"text":{"field":"t"}}},
{"transform":[{"filter":"datum.k=='y'"}],"mark":{"type":"tick","orient":"horizontal","size":4,"thickness":1,"xOffset":-3,"color":"#777777"}},
{"transform":[{"filter":"datum.k=='q'"}],"mark":{"type":"text","xOffset":4,"yOffset":7,"angle":330,"font":"DejaVu Sans","fontSize":10.5,"fill":"#666666"},"encoding":{"text":{"field":"t"}}},
{"transform":[{"filter":"datum.k=='t1'"}],"mark":{"type":"text","yOffset":24,"font":"DejaVu Sans","fontSize":10,"fill":"#666666"},"encoding":{"text":{"field":"t"}}},
{"transform":[{"filter":"datum.k=='t2'"}],"mark":{"type":"text","xOffset":5,"yOffset":26,"font":"DejaVu Sans","fontSize":10,"fill":"#666666"},"encoding":{"text":{"field":"t"}}},
{"transform":[{"filter":"datum.k=='t3'"}],"mark":{"type":"text","xOffset":-25,"angle":270,"font":"DejaVu Sans","fontSize":9,"fill":"#666666"},"encoding":{"text":{"field":"t"}}}
]}]}
